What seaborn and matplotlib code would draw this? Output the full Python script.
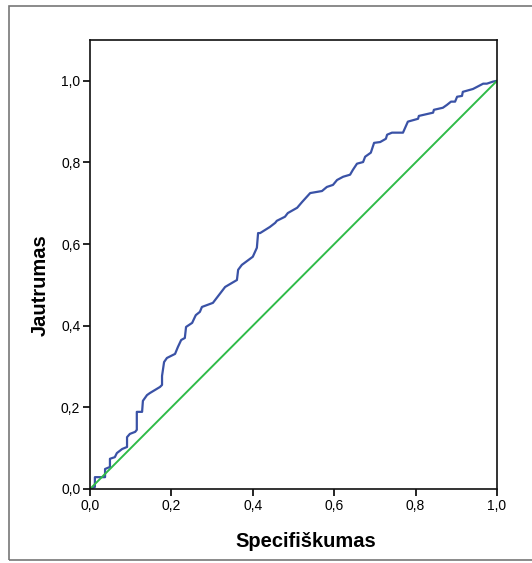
import matplotlib
matplotlib.use("Agg")
import matplotlib.pyplot as plt
import seaborn as sns
import pandas as pd
from matplotlib.patches import Rectangle

fpr = [0.0, 0.012, 0.012, 0.037, 0.037, 0.049, 0.049, 0.061, 0.066, 0.079,
       0.091, 0.091, 0.098, 0.111, 0.115, 0.115, 0.128, 0.130, 0.140, 0.147,
       0.172, 0.177, 0.177, 0.182, 0.189, 0.209, 0.216, 0.224, 0.233, 0.236,
       0.251, 0.258, 0.260, 0.270, 0.275, 0.302, 0.332, 0.349, 0.361, 0.364,
       0.373, 0.400, 0.410, 0.413, 0.418, 0.442, 0.455, 0.459, 0.479, 0.486,
       0.509, 0.521, 0.541, 0.570, 0.582, 0.597, 0.607, 0.622, 0.639, 0.646,
       0.656, 0.671, 0.676, 0.690, 0.698, 0.713, 0.727, 0.730, 0.742, 0.769,
       0.781, 0.806, 0.808, 0.843, 0.845, 0.867, 0.877, 0.887, 0.897, 0.902,
       0.914, 0.916, 0.941, 0.966, 0.975, 0.990, 1.0]
tpr = [0.0, 0.005, 0.029, 0.029, 0.049, 0.054, 0.074, 0.078, 0.088, 0.098,
       0.103, 0.127, 0.135, 0.140, 0.145, 0.189, 0.189, 0.216, 0.230, 0.235,
       0.250, 0.255, 0.277, 0.311, 0.321, 0.331, 0.348, 0.365, 0.370, 0.397,
       0.407, 0.422, 0.426, 0.434, 0.446, 0.456, 0.495, 0.505, 0.512, 0.537,
       0.549, 0.569, 0.591, 0.627, 0.627, 0.642, 0.652, 0.657, 0.667, 0.676,
       0.689, 0.703, 0.725, 0.730, 0.740, 0.745, 0.757, 0.765, 0.770, 0.782,
       0.797, 0.801, 0.814, 0.824, 0.848, 0.850, 0.858, 0.868, 0.873, 0.873,
       0.900, 0.907, 0.914, 0.922, 0.929, 0.934, 0.941, 0.949, 0.949, 0.961,
       0.963, 0.973, 0.980, 0.993, 0.993, 0.998, 1.0]
ref_x = [0.0, 1.0]
ref_y = [0.0, 1.0]
ticks = [0.0, 0.2, 0.4, 0.6, 0.8, 1.0]
tick_labels = ["0,0", "0,2", "0,4", "0,6", "0,8", "1,0"]

sns.set_style("ticks")
plt.rcParams["font.family"] = ["Liberation Sans", "DejaVu Sans"]

fig = plt.figure(figsize=(5.32, 5.63), dpi=100)
fig.patches.append(Rectangle((8.5 / 532, 3 / 563), 1.0, (554) / 563,
                             transform=fig.transFigure, fill=False,
                             edgecolor="#777777", linewidth=1.2))
ax = fig.add_axes([90 / 532, 74 / 563, 407 / 532, 449 / 563])

roc = pd.DataFrame({"x": fpr, "y": tpr})
ref = pd.DataFrame({"x": ref_x, "y": ref_y})
sns.lineplot(data=roc, x="x", y="y", ax=ax, sort=False, estimator=None,
             color="#3a52a6", linewidth=1.6)
sns.lineplot(data=ref, x="x", y="y", ax=ax, sort=False, estimator=None,
             color="#2fbb48", linewidth=1.4)

ax.set_xlim(0, 1.0)
ax.set_ylim(0, 1.1)
ax.set_xticks(ticks)
ax.set_xticklabels(tick_labels)
ax.set_yticks(ticks)
ax.set_yticklabels(tick_labels)
ax.tick_params(direction="out", length=5, width=1.2, labelsize=10,
               colors="#000000", pad=2)
for s in ax.spines.values():
    s.set_visible(True)
    s.set_color("#111111")
    s.set_linewidth(1.2)

ax.set_xlabel("Specifiškumas", fontsize=14.5, fontweight="bold", color="black")
ax.set_ylabel("Jautrumas", fontsize=14.5, fontweight="bold", color="black")
ax.xaxis.set_label_coords(0.53, -0.095)
ax.yaxis.set_label_coords(-0.098, 0.454)

fig.savefig("out.png", dpi=100)
